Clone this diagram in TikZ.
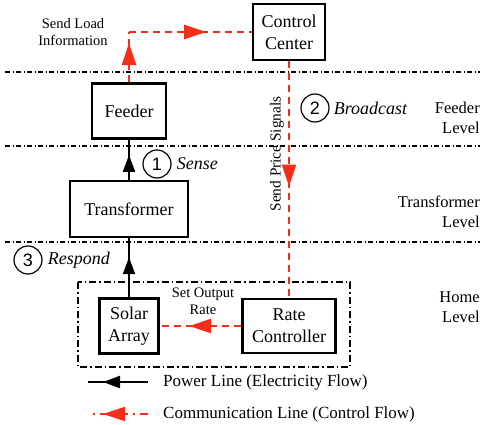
\documentclass[tikz,border=0pt]{standalone}
\usepackage{fontspec}
\setmainfont{Liberation Serif}
\setsansfont{Liberation Sans}
\usetikzlibrary{arrows.meta,positioning,decorations.markings}
\definecolor{ctrlred}{RGB}{245,45,25}

\begin{document}
\begin{tikzpicture}[x=1pt,y=-1pt,
    box/.style={draw,line width=2.8pt,align=center,inner sep=1pt,font=\fontsize{18}{22}\selectfont},
    numb/.style={draw,circle,line width=1.2pt,minimum size=28pt,inner sep=0pt,font=\sffamily\fontsize{18}{20}\selectfont},
    act/.style={inner sep=0pt,font=\itshape\fontsize{18}{20}\selectfont},
    level/.style={align=right,anchor=east,inner sep=0pt,font=\fontsize{16.5}{20}\selectfont},
    note/.style={align=center,inner sep=0pt,font=\fontsize{14.5}{17}\selectfont},
    legend/.style={inner sep=0pt,anchor=west,font=\fontsize{17}{20}\selectfont},
    sep/.style={line width=1.1pt,dash pattern=on 5pt off 2.5pt on 1pt off 2.5pt},
    power/.style={line width=2.2pt,postaction={decorate},
      decoration={markings,mark=at position #1 with {\arrow{Triangle[length=17pt,width=12pt]}}}},
    comm/.style={ctrlred,line width=2.2pt,dash pattern=on 7pt off 5pt,postaction={decorate},
      decoration={markings,mark=at position #1 with {\arrow{Triangle[length=22pt,width=14pt]}}}}]

    \useasboundingbox (0,0) rectangle (484,425);

    % levels
    \draw[sep] (5,72) -- (480,72);
    \draw[sep] (5,146) -- (480,146);
    \draw[sep] (5,242) -- (480,242);
    \draw[line width=1.8pt,dash pattern=on 7pt off 3pt on 1.5pt off 3pt] (78,282) rectangle (350,367);

    \node[level] (lfeed)  at (480,118) {Feeder\\Level};
    \node[level] (ltrans) at (480,212) {Transformer\\Level};
    \node[level] (lhome)  at (480,307) {Home\\Level};

    % boxes
    \node[box,minimum width=72pt,minimum height=56pt] (cc)     at (289,32)  {Control\\Center};
    \node[box,minimum width=74pt,minimum height=55pt] (feeder) at (129,111) {Feeder};
    \node[box,minimum width=118pt,minimum height=56pt] (trans) at (129,209) {Transformer};
    \node[box,minimum width=59pt,minimum height=55pt] (solar)  at (129,326) {Solar\\Array};
    \node[box,minimum width=93pt,minimum height=54pt] (rate)   at (289,326) {Rate\\Controller};

    \coordinate (bend) at (feeder.north |- cc.west);

    % flows
    \draw[power=0.62] (trans.north) -- (feeder.south);
    \draw[power=0.68] (solar.north) -- (trans.south);
    \draw[comm=0.78] (feeder.north) -- (bend);
    \draw[comm=0.63] (bend) -- (cc.west);
    \draw[comm=0.53] (cc.south) -- (rate.north);
    \draw[comm=0.64] (rate.west) -- (solar.east);

    \node[note] (load) at (73,32) {Send Load\\Information};
    \node[note] (setrate) at (203,301) {Set Output\\Rate};
    \node[note,rotate=90,font=\fontsize{15.3}{17}\selectfont] (price) at (277,154) {Send Price Signals};

    % steps
    \node[numb] (c1) at (157,164) {1};
    \node[act,right=5pt of c1] (sense) {Sense};
    \node[numb] (c2) at (315,108) {2};
    \node[act,right=4pt of c2] (bcast) {Broadcast};
    \node[numb] (c3) at (28,260) {3};
    \node[act,right=5pt of c3] (resp) {Respond};

    % legend
    \coordinate (pwA) at (148,382);
    \coordinate (pwB) at (88,382);
    \coordinate (cmA) at (148,414);
    \coordinate (cmB) at (88,414);
    \draw[power=0.75] (pwA) -- (pwB);
    \draw[comm=0.75,dash pattern=on 8pt off 5pt on 2pt off 5pt] (cmA) -- (cmB);
    \node[legend,right=15pt of pwA] (pwtxt) {Power Line (Electricity Flow)};
    \node[legend,right=15pt of cmA] (cmtxt) {Communication Line (Control Flow)};

\end{tikzpicture}
\end{document}
